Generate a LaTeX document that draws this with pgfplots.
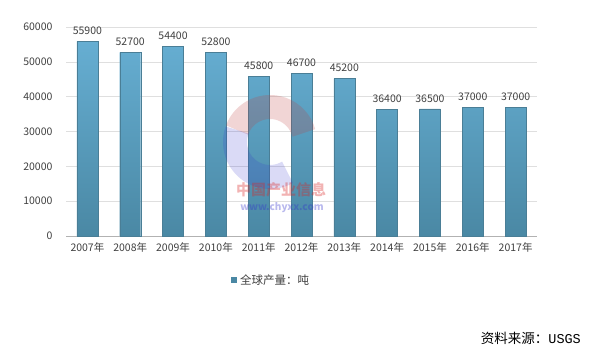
\documentclass[border=0pt]{standalone}
\usepackage{pgfplots}
\pgfplotsset{compat=1.18}
\usepackage{fontspec}
\setmainfont{Noto Sans CJK SC}
\newfontfamily\monofont{Liberation Mono}
\definecolor{bartop}{HTML}{66AED2}
\definecolor{barbot}{HTML}{4A88A4}
\definecolor{barline}{HTML}{4A7E96}
\definecolor{txt}{HTML}{404040}
\begin{document}
\begin{tikzpicture}
\useasboundingbox (0pt,0pt) rectangle (594pt,354pt);
\begin{axis}[
  at={(66pt,118pt)}, anchor=south west,
  scale only axis, width=471pt, height=209pt,
  xmin=-0.5, xmax=10.5, ymin=0, ymax=60000,
  ytick={0,10000,...,60000},
  xtick=data,
  xticklabels={2007年,2008年,2009年,2010年,2011年,2012年,2013年,2014年,2015年,2016年,2017年},
  /pgf/number format/assume math mode=true,
  scaled y ticks=false,
  yticklabel style={/pgf/number format/fixed,/pgf/number format/1000 sep={},font=\fontsize{10.5}{11}\selectfont,text=txt},
  xticklabel style={font=\fontsize{10.5}{11}\selectfont,text=txt},
  axis x line*=bottom, axis y line*=left,
  y axis line style={draw=none},
  x axis line style={draw=gray!60,-},
  major tick length=0pt,
  ymajorgrids, grid style={draw=gray!25},
  yticklabel style={xshift=-10pt},
  xticklabel style={yshift=-3pt},
  ybar, bar width=21pt,
  nodes near coords,
  every node near coord/.append style={font=\fontsize{10.5}{11}\selectfont,text=txt,/pgf/number format/1000 sep={},yshift=3pt},
]
\addplot[draw=barline, top color=bartop, bottom color=barbot] coordinates {
(0,55900) (1,52700) (2,54400) (3,52800) (4,45800) (5,46700) (6,45200) (7,36400) (8,36500) (9,37000) (10,37000)};
\end{axis}
% watermark
\draw[line width=24pt, red!50!gray, opacity=0.22] (270pt,212pt) ++(160:35pt) arc (160:15:35pt);
\draw[line width=24pt, blue!60!gray, opacity=0.18] (270pt,212pt) ++(160:35pt) arc (160:300:35pt);
\node[font=\bfseries\fontsize{15}{15}\selectfont, text=red!70!gray, opacity=0.35] at (281pt,164pt) {中国产业信息};
\node[font=\bfseries\fontsize{10}{10}\selectfont, text=blue!60!gray, opacity=0.35] at (282pt,146pt) {www.chyxx.com};
% legend
\fill[barbot] (231pt,71pt) rectangle (237pt,77pt);
\node[anchor=west, font=\fontsize{11.5}{12}\selectfont, text=txt, inner sep=0] at (240pt,74pt) {全球产量：吨};
% source
\node[anchor=east, font=\fontsize{13.5}{14}\selectfont, inner sep=0] at (581pt,16pt) {资料来源：{\monofont USGS}};
\end{tikzpicture}
\end{document}
